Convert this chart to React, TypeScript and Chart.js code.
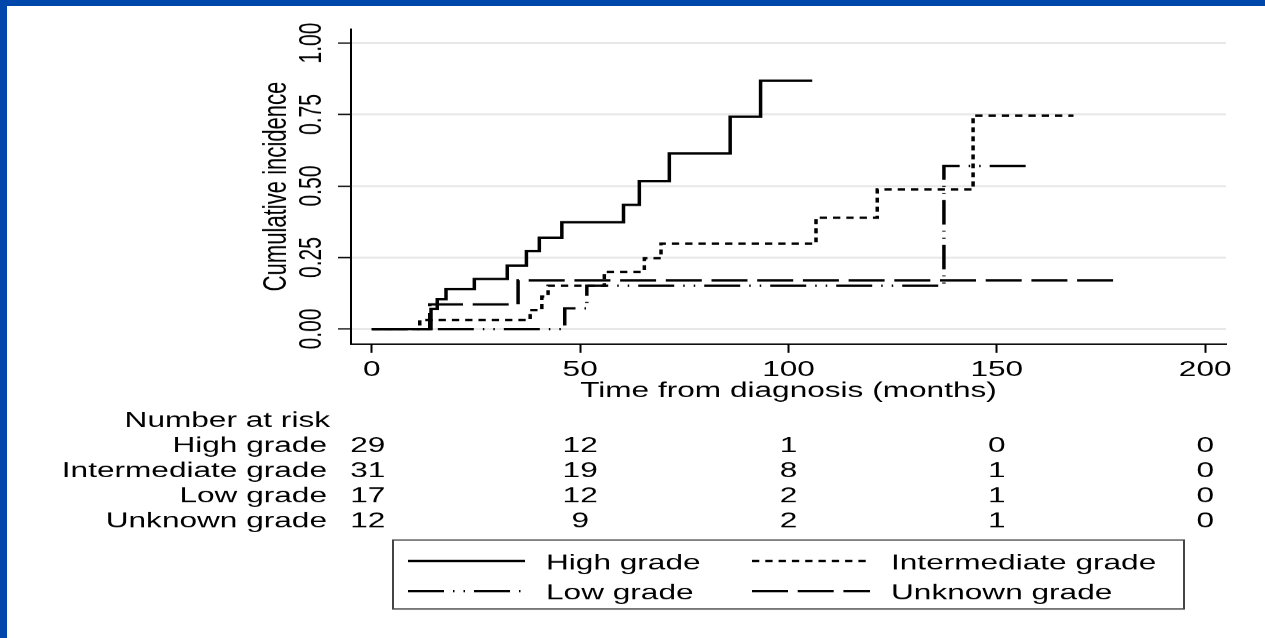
import React, { useEffect, useRef } from 'react';
import { Chart, registerables } from 'chart.js';

Chart.register(...registerables);

// ---------------- data ----------------
const xTickValues = [0, 50, 100, 150, 200];
const yTickValues = [0, 0.25, 0.5, 0.75, 1];

const groupNames = ['High grade', 'Intermediate grade', 'Low grade', 'Unknown grade'];

const highTimes = [0, 14.2, 15.7, 17.8, 24.6, 32.5, 37.1, 40.2, 45.6, 60.4, 64.2, 71.4, 86.0, 93.3, 105.7];
const highValues = [0, 0.07, 0.104, 0.14, 0.175, 0.222, 0.273, 0.319, 0.373, 0.434, 0.517, 0.614, 0.742, 0.868, 0.868];

const intTimes = [0, 11.5, 38.0, 40.8, 42.3, 55.8, 65.4, 69.4, 106.6, 121.3, 144.3, 168.4];
const intValues = [0, 0.031, 0.066, 0.113, 0.151, 0.2, 0.247, 0.298, 0.389, 0.488, 0.746, 0.746];

const lowTimes = [0, 46.3, 51.6, 137.3, 157.1];
const lowValues = [0, 0.072, 0.151, 0.57, 0.57];

const unkTimes = [0, 13.9, 35.1, 178.3];
const unkValues = [0, 0.086, 0.17, 0.17];

const riskTimes = [0, 50, 100, 150, 200];
const riskHigh = [29, 12, 1, 0, 0];
const riskIntermediate = [31, 19, 8, 1, 0];
const riskLow = [17, 12, 2, 1, 0];
const riskUnknown = [12, 9, 2, 1, 0];

// ---------------- styles ----------------
const W = 1265;
const DISPLAY_H = 638;
const H = 940; // internal canvas height, squashed vertically on display
const S = DISPLAY_H / H;
const iy = (d: number) => d / S; // display y -> internal y

const FONT = '"Liberation Sans", Arial, Helvetica, sans-serif';
const FS = 31.6;
const BLUE = '#0047AB';
const LW = 3.5;

const dashHigh: number[] = [];
const dashInt = [7.3, 6];
const dashLow = [36, 9, 1.5, 9, 1.5, 9];
const dashUnk = [36, 9.7];

const mk = (label: string, times: number[], values: number[], dash: number[]) => ({
  label,
  data: times.map((t, i) => ({ x: t, y: values[i] })),
  borderColor: '#000',
  backgroundColor: '#000',
  borderWidth: LW,
  borderDash: dash,
  borderCapStyle: 'butt' as const,
  borderJoinStyle: 'miter' as const,
  stepped: 'before' as const,
  pointRadius: 0,
  pointHoverRadius: 0,
  fill: false,
  tension: 0,
});

const riskPlugin = {
  id: 'riskTableAndLegend',
  afterDraw(chart: any) {
    const ctx: CanvasRenderingContext2D = chart.ctx;
    const xs = chart.scales.x;
    const rows = [riskHigh, riskIntermediate, riskLow, riskUnknown];
    ctx.save();
    ctx.fillStyle = '#000';
    ctx.font = `${FS}px ${FONT}`;
    ctx.textBaseline = 'middle';

    // Number at risk table
    ctx.textAlign = 'right';
    ctx.fillText('Number at risk', 330, iy(421.3));
    rows.forEach((vals, r) => {
      const y = iy(446 + 25.2 * r);
      ctx.textAlign = 'right';
      ctx.fillText(groupNames[r], 327, y);
      ctx.textAlign = 'center';
      vals.forEach((v, c) => {
        const px = xs.getPixelForValue(riskTimes[c]) + (c === 0 ? -4 : 0);
        ctx.fillText(String(v), px, y);
      });
    });

    // Legend box
    const bx = 393, by = iy(540), bw = 1184 - 393, bh = iy(609) - iy(540);
    ctx.strokeStyle = '#444';
    ctx.lineWidth = 2;
    ctx.setLineDash([]);
    ctx.strokeRect(bx, by, bw, bh);

    const items = [
      { ds: 0, x1: 408, x2: 525, tx: 546, y: 561 },
      { ds: 1, x1: 752, x2: 870, tx: 891, y: 561 },
      { ds: 2, x1: 408, x2: 525, tx: 546, y: 591 },
      { ds: 3, x1: 752, x2: 870, tx: 891, y: 591 },
    ];
    items.forEach((it) => {
      const ds = chart.data.datasets[it.ds];
      const y = iy(it.y);
      ctx.beginPath();
      ctx.setLineDash(ds.borderDash || []);
      ctx.lineDashOffset = 0;
      ctx.lineWidth = ds.borderWidth;
      ctx.strokeStyle = ds.borderColor;
      ctx.lineCap = 'butt';
      ctx.moveTo(it.x1, y);
      ctx.lineTo(it.x2, y);
      ctx.stroke();
      ctx.setLineDash([]);
      ctx.textAlign = 'left';
      ctx.fillStyle = '#000';
      ctx.fillText(ds.label, it.tx, iy(it.y + 2.3));
    });
    ctx.restore();
  },
};

export default function App() {
  const ref = useRef<HTMLCanvasElement>(null);

  useEffect(() => {
    const canvas = ref.current;
    if (!canvas) return;
    const chart = new Chart(canvas, {
      type: 'line',
      data: {
        datasets: [
          mk(groupNames[0], highTimes, highValues, dashHigh),
          mk(groupNames[1], intTimes, intValues, dashInt),
          mk(groupNames[2], lowTimes, lowValues, dashLow),
          mk(groupNames[3], unkTimes, unkValues, dashUnk),
        ] as any,
      },
      options: {
        responsive: false,
        animation: false,
        devicePixelRatio: 1,
        events: [],
        layout: { padding: { left: 0, right: 39, top: 42.7, bottom: 344.4 } },
        plugins: {
          legend: { display: false },
          tooltip: { enabled: false },
          title: { display: false },
        },
        scales: {
          x: {
            type: 'linear',
            min: -5,
            max: 205,
            afterBuildTicks: (scale: any) => {
              scale.ticks = xTickValues.map((v) => ({ value: v }));
            },
            afterFit: (scale: any) => {
              scale.height = 88.8;
            },
            grid: {
              display: true,
              drawOnChartArea: false,
              drawTicks: true,
              tickLength: 13,
              tickColor: '#000',
              tickWidth: 2,
            },
            border: { display: true, color: '#000', width: 2 },
            ticks: {
              autoSkip: false,
              maxRotation: 0,
              minRotation: 0,
              padding: 6.7,
              color: '#000',
              font: { family: FONT, size: FS },
              callback: (v: any) => String(v),
            },
            title: {
              display: true,
              text: 'Time from diagnosis (months)',
              color: '#000',
              font: { family: FONT, size: FS },
              padding: { top: 0, bottom: 0 },
            },
          },
          y: {
            type: 'linear',
            min: -0.0525,
            max: 1.049,
            afterBuildTicks: (scale: any) => {
              scale.ticks = yTickValues.map((v) => ({ value: v }));
            },
            afterFit: (scale: any) => {
              scale.width = 351;
            },
            grid: {
              display: true,
              drawOnChartArea: true,
              drawTicks: true,
              tickLength: 13,
              color: '#e8e8e8',
              lineWidth: 3,
              tickColor: '#000',
              tickWidth: 2,
            },
            border: { display: true, color: '#000', width: 2 },
            ticks: {
              autoSkip: false,
              minRotation: 90,
              maxRotation: 90,
              crossAlign: 'center',
              padding: -4.7,
              color: '#000',
              font: { family: FONT, size: 31 },
              callback: (v: any) => Number(v).toFixed(2),
            },
            title: {
              display: true,
              text: 'Cumulative incidence',
              color: '#000',
              font: { family: FONT, size: 32.5 },
              padding: { top: 257.4, bottom: 0 },
            },
          },
        },
      } as any,
      plugins: [riskPlugin],
    });
    return () => chart.destroy();
  }, []);

  return (
    <div
      style={{
        position: 'fixed',
        left: 0,
        top: 0,
        width: W,
        height: DISPLAY_H,
        background: '#fff',
        overflow: 'hidden',
      }}
    >
      <canvas
        ref={ref}
        width={W}
        height={H}
        style={{ position: 'absolute', left: 0, top: 0, width: `${W}px`, height: `${DISPLAY_H}px` }}
      />
      <div style={{ position: 'absolute', left: 0, top: 0, width: W, height: 6, background: BLUE }} />
      <div style={{ position: 'absolute', left: 0, top: 0, width: 7, height: DISPLAY_H, background: BLUE }} />
    </div>
  );
}
